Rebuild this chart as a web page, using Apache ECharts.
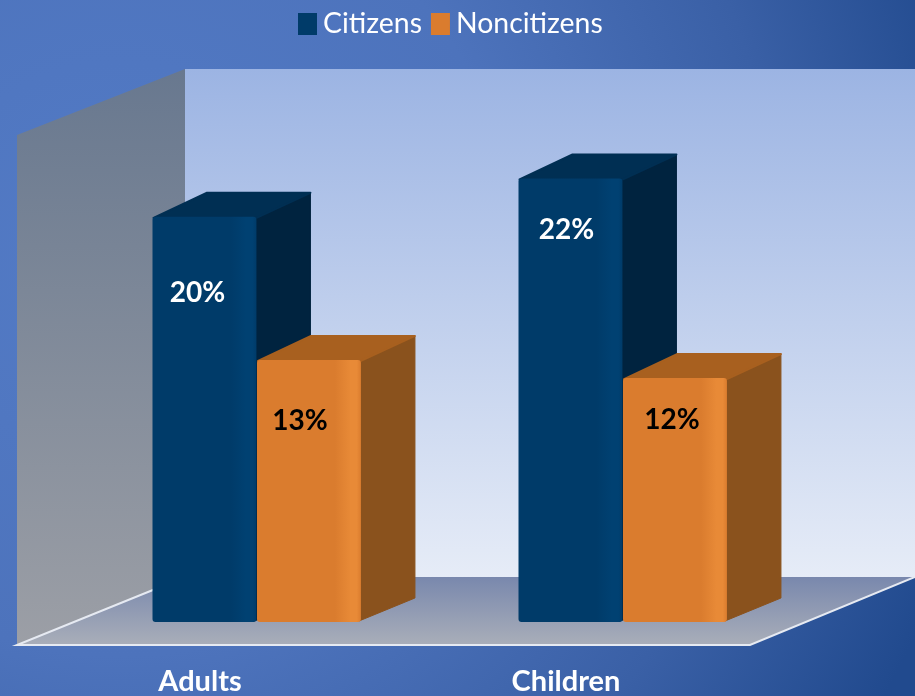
<!DOCTYPE html>
<html>
<head>
<meta charset="utf-8">
<style>html,body{margin:0;padding:0;background:#4a6fb7}#c{width:915px;height:696px}</style>
<script src="https://cdn.jsdelivr.net/npm/echarts@6/dist/echarts.min.js"></script>
</head>
<body>
<div id="c"></div>
<script>
const categories = ['Adults', 'Children'];
const seriesNames = ['Citizens', 'Noncitizens'];
const citizens = [20.1, 22];
const noncitizens = [13, 12.1];
const citizensLabels = ['20%', '22%'];
const noncitizensLabels = ['13%', '12%'];

const FONT = 'Lato, "Open Sans", sans-serif';
const DEPTH = [54, -24];
const styleCit = {front:'#003b69', hi:'#004172', top:'#002f53', side:'#00233f', text:'#fff'};
const styleNon = {front:'#da7c2e', hi:'#e88a37', top:'#a8601f', side:'#8a521d', text:'#000'};
// label placement relative to the bar's front-top centre [series][category]
const labelShift = [[[-7, 76], [-4, 51]], [[-9, 61], [-3, 42]]];

function makeRender(sIdx, st, labels) {
  return function (params, api) {
    const cat = api.value(0), val = api.value(1);
    const band = api.size([1, 0])[0];
    const base = api.coord([cat, 0]);
    const topPt = api.coord([cat, val]);
    const w = band * 0.284;
    const x0 = base[0] + (sIdx === 0 ? -47.5 : 57);
    const x1 = x0 + w, yT = topPt[1], yB = base[1];
    const dx = DEPTH[0], dy = DEPTH[1];
    const s = labelShift[sIdx][cat];
    const grad = new echarts.graphic.LinearGradient(0, 0, 1, 0, [
      {offset: 0, color: st.front}, {offset: 0.75, color: st.front},
      {offset: 0.9, color: st.hi}, {offset: 0.96, color: st.hi}, {offset: 1, color: st.front}
    ]);
    return {type: 'group', children: [
      {type: 'polygon', shape: {points: [[x1 - 2, yB - 1], [x1 + dx, yB + dy], [x1 + dx, yT + dy], [x1 - 2, yT]]},
        style: {fill: st.side, stroke: st.side, lineWidth: 1, lineJoin: 'round'}},
      {type: 'polygon', shape: {points: [[x0 + 1, yT + 1], [x0 + dx, yT + dy], [x1 + dx, yT + dy], [x1, yT + 1]]},
        style: {fill: st.top, stroke: st.top, lineWidth: 2, lineJoin: 'round'}},
      {type: 'rect', shape: {x: x0, y: yT, width: w, height: yB - yT, r: 3}, style: {fill: grad}},
      {type: 'text', style: {text: labels[cat], x: (x0 + x1) / 2 + s[0], y: yT + s[1], align: 'center',
        verticalAlign: 'middle', fill: st.text, font: 'bold 28px ' + FONT}}
    ]};
  };
}

const wall = {
  left: [[17, 135], [185, 69], [185, 577], [17, 645]],
  back: {x: 185, y: 69, width: 730, height: 508},
  floor: [[17, 645], [185, 577], [915, 577], [750, 645]]
};

const chart = echarts.init(document.getElementById('c'), null, {renderer: 'canvas'});
chart.setOption({
  animation: false,
  backgroundColor: {type: 'radial', x: 120, y: 260, r: 880, global: true, colorStops: [
    {offset: 0, color: '#537bc6'}, {offset: 0.45, color: '#4d73bc'},
    {offset: 0.75, color: '#3a60a6'}, {offset: 1, color: '#214a8e'}]},
  grid: {left: 17, right: 166, top: 118, bottom: 71},
  xAxis: {type: 'category', data: categories, axisLine: {show: false}, axisTick: {show: false},
    axisLabel: {color: '#fff', fontFamily: FONT, fontWeight: 'bold', fontSize: 29, margin: 45}},
  yAxis: {type: 'value', min: 0, max: 25, show: false, splitLine: {show: false}},
  legend: {left: 293, top: 5, itemWidth: 19, itemHeight: 22, itemGap: 9, icon: 'rect',
    textStyle: {color: '#fff', fontFamily: FONT, fontSize: 28.4, padding: [0, 0, 0, 1]},
    data: seriesNames},
  graphic: {elements: [
    {type: 'rect', z: 0, silent: true, shape: wall.back, style: {fill: new echarts.graphic.LinearGradient(0, 0, 0, 1, [
      {offset: 0, color: '#9cb4e3'}, {offset: 1, color: '#e6ecf7'}])}},
    {type: 'polygon', z: 0, silent: true, shape: {points: wall.left}, style: {fill: new echarts.graphic.LinearGradient(0, 0, 0, 1, [
      {offset: 0, color: '#68788f'}, {offset: 1, color: '#9c9fa6'}])}},
    {type: 'polygon', z: 0, silent: true, shape: {points: wall.floor}, style: {fill: new echarts.graphic.LinearGradient(0, 0, 0, 1, [
      {offset: 0, color: '#7988ad'}, {offset: 1, color: '#a9aeb9'}])}},
    {type: 'polyline', z: 0, silent: true, shape: {points: [[185, 577], [17, 645], [750, 645], [915, 577]]},
      style: {fill: null, stroke: '#e6eaf2', lineWidth: 2}}
  ]},
  series: [
    {name: seriesNames[0], type: 'custom', z: 5, itemStyle: {color: styleCit.front},
      renderItem: makeRender(0, styleCit, citizensLabels),
      encode: {x: 0, y: 1}, data: citizens.map((v, i) => [i, v])},
    {name: seriesNames[1], type: 'custom', z: 6, itemStyle: {color: styleNon.front},
      renderItem: makeRender(1, styleNon, noncitizensLabels),
      encode: {x: 0, y: 1}, data: noncitizens.map((v, i) => [i, v])}
  ]
});
</script>
</body>
</html>
